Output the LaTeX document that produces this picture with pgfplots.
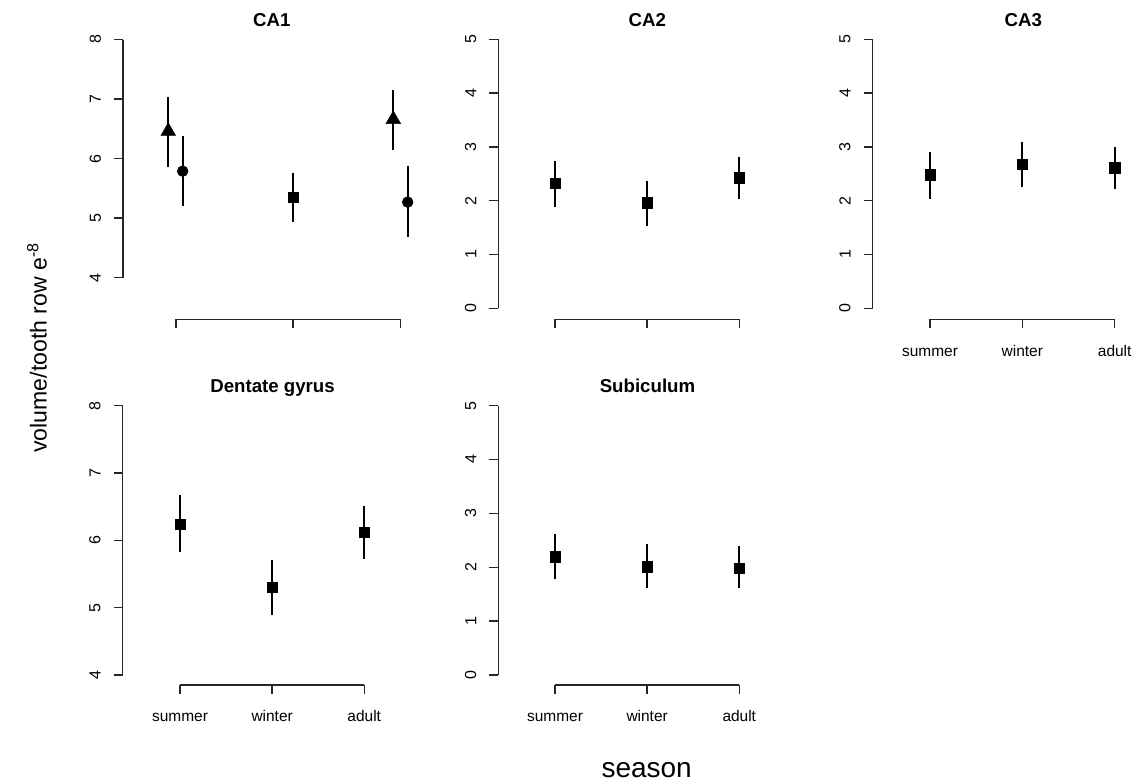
\documentclass[border=0pt]{standalone}
\usepackage{pgfplots}
\pgfplotsset{compat=1.18}
\usepackage{fontspec}
\setmainfont{Liberation Sans}

\pgfplotsset{
  rpanel/.style={
    scale only axis,
    axis x line*=bottom, axis y line*=left,
    axis line style={-, line width=1.1pt, black!85},
    tick style={line width=1.1pt, black!85},
    tick align=outside,
    major tick length=6.75pt,
    clip=false,
    anchor=south west,
    /pgf/number format/assume math mode=true,
    yticklabel style={rotate=90, anchor=south, inner xsep=0pt, inner ysep=9.6pt,
      font=\fontsize{12}{13}\selectfont},
    xticklabel style={anchor=base, inner sep=0pt, yshift=-20.8pt,
      font=\fontsize{11.6}{13}\selectfont},
    xtick={1,2,3},
  },
  ebar/.style={
    only marks, black,
    mark options={solid, fill=black, line width=0.3pt},
    error bars/y dir=both,
    error bars/y explicit,
    error bars/error mark=none,
    error bars/error bar style={line width=1.4pt, black},
  },
}

\begin{document}
\begin{tikzpicture}
\path[use as bounding box] (0pt,0pt) rectangle (850.5pt,-586.5pt);

% ---------- CA1 ----------
\begin{axis}[rpanel,
  at={(132pt,-208.3pt)}, width=168.5pt, height=178.65pt,
  xmin=1, xmax=2.92, ymin=4, ymax=8,
  xtick={1,2,2.92}, xticklabels={,,},
  ytick={4,5,6,7,8},
  axis x line shift=31.2pt, axis y line shift=39.75pt]
\addplot[ebar, mark=triangle*, mark size=6.4pt] coordinates {
  (0.934,6.46) += (0,0.58) -= (0,0.60)
  (2.857,6.66) += (0,0.49) -= (0,0.52)
};
\addplot[ebar, mark=*, mark size=4.1pt] coordinates {
  (1.057,5.79) += (0,0.59) -= (0,0.59)
  (2.98,5.27) += (0,0.60) -= (0,0.59)
};
\addplot[ebar, mark=square*, mark size=3.9pt] coordinates {
  (2.0,5.35) += (0,0.41) -= (0,0.41)
};
\end{axis}

% ---------- CA2 ----------
\begin{axis}[rpanel,
  at={(416.25pt,-231.2pt)}, width=138.2pt, height=201.75pt,
  xmin=1, xmax=3, ymin=0, ymax=5,
  xticklabels={,,},
  ytick={0,1,2,3,4,5},
  axis x line shift=8.25pt, axis y line shift=42.5pt]
\addplot[ebar, mark=square*, mark size=3.9pt] coordinates {
  (1,2.32) += (0,0.42) -= (0,0.43)
  (2,1.96) += (0,0.41) -= (0,0.43)
  (3,2.43) += (0,0.39) -= (0,0.40)
};
\end{axis}

% ---------- CA3 ----------
\begin{axis}[rpanel,
  at={(697.5pt,-231.2pt)}, width=138.5pt, height=201.75pt,
  xmin=1, xmax=3, ymin=0, ymax=5,
  xticklabels={summer,winter,adult},
  ytick={0,1,2,3,4,5},
  axis x line shift=8.25pt, axis y line shift=43pt]
\addplot[ebar, mark=square*, mark size=3.9pt] coordinates {
  (1,2.48) += (0,0.43) -= (0,0.44)
  (2,2.68) += (0,0.41) -= (0,0.42)
  (3,2.61) += (0,0.39) -= (0,0.40)
};
\end{axis}

% ---------- Dentate gyrus ----------
\begin{axis}[rpanel,
  at={(135pt,-506.25pt)}, width=138.2pt, height=202pt,
  xmin=1, xmax=3, ymin=4, ymax=8,
  xticklabels={summer,winter,adult},
  ytick={4,5,6,7,8},
  axis x line shift=7.5pt, axis y line shift=43pt]
\addplot[ebar, mark=square*, mark size=3.9pt] coordinates {
  (1,6.24) += (0,0.43) -= (0,0.42)
  (2,5.30) += (0,0.41) -= (0,0.41)
  (3,6.12) += (0,0.39) -= (0,0.39)
};
\end{axis}

% ---------- Subiculum ----------
\begin{axis}[rpanel,
  at={(416.25pt,-506.25pt)}, width=138.2pt, height=202pt,
  xmin=1, xmax=3, ymin=0, ymax=5,
  xticklabels={summer,winter,adult},
  ytick={0,1,2,3,4,5},
  axis x line shift=7.5pt, axis y line shift=42.5pt]
\addplot[ebar, mark=square*, mark size=3.9pt] coordinates {
  (1,2.20) += (0,0.42) -= (0,0.42)
  (2,2.01) += (0,0.42) -= (0,0.40)
  (3,1.98) += (0,0.41) -= (0,0.37)
};
\end{axis}

% ---------- titles and labels ----------
\begin{scope}[every node/.style={font=\fontsize{14}{16}\selectfont\bfseries, anchor=base, inner sep=0pt}]
\node at (203.8pt,-20pt) {CA1};
\node at (485.5pt,-20pt) {CA2};
\node at (767.5pt,-20pt) {CA3};
\node at (204.4pt,-294.5pt) {Dentate gyrus};
\node at (485.6pt,-294.5pt) {Subiculum};
\end{scope}
\node[rotate=90, anchor=base west, inner sep=0pt, font=\fontsize{17.3}{20}\selectfont]
  at (35pt,-339.75pt) {volume/tooth row e\textsuperscript{-8}};
\node[anchor=base, inner sep=0pt, font=\fontsize{21}{24}\selectfont]
  at (485pt,-583pt) {season};
\end{tikzpicture}
\end{document}
